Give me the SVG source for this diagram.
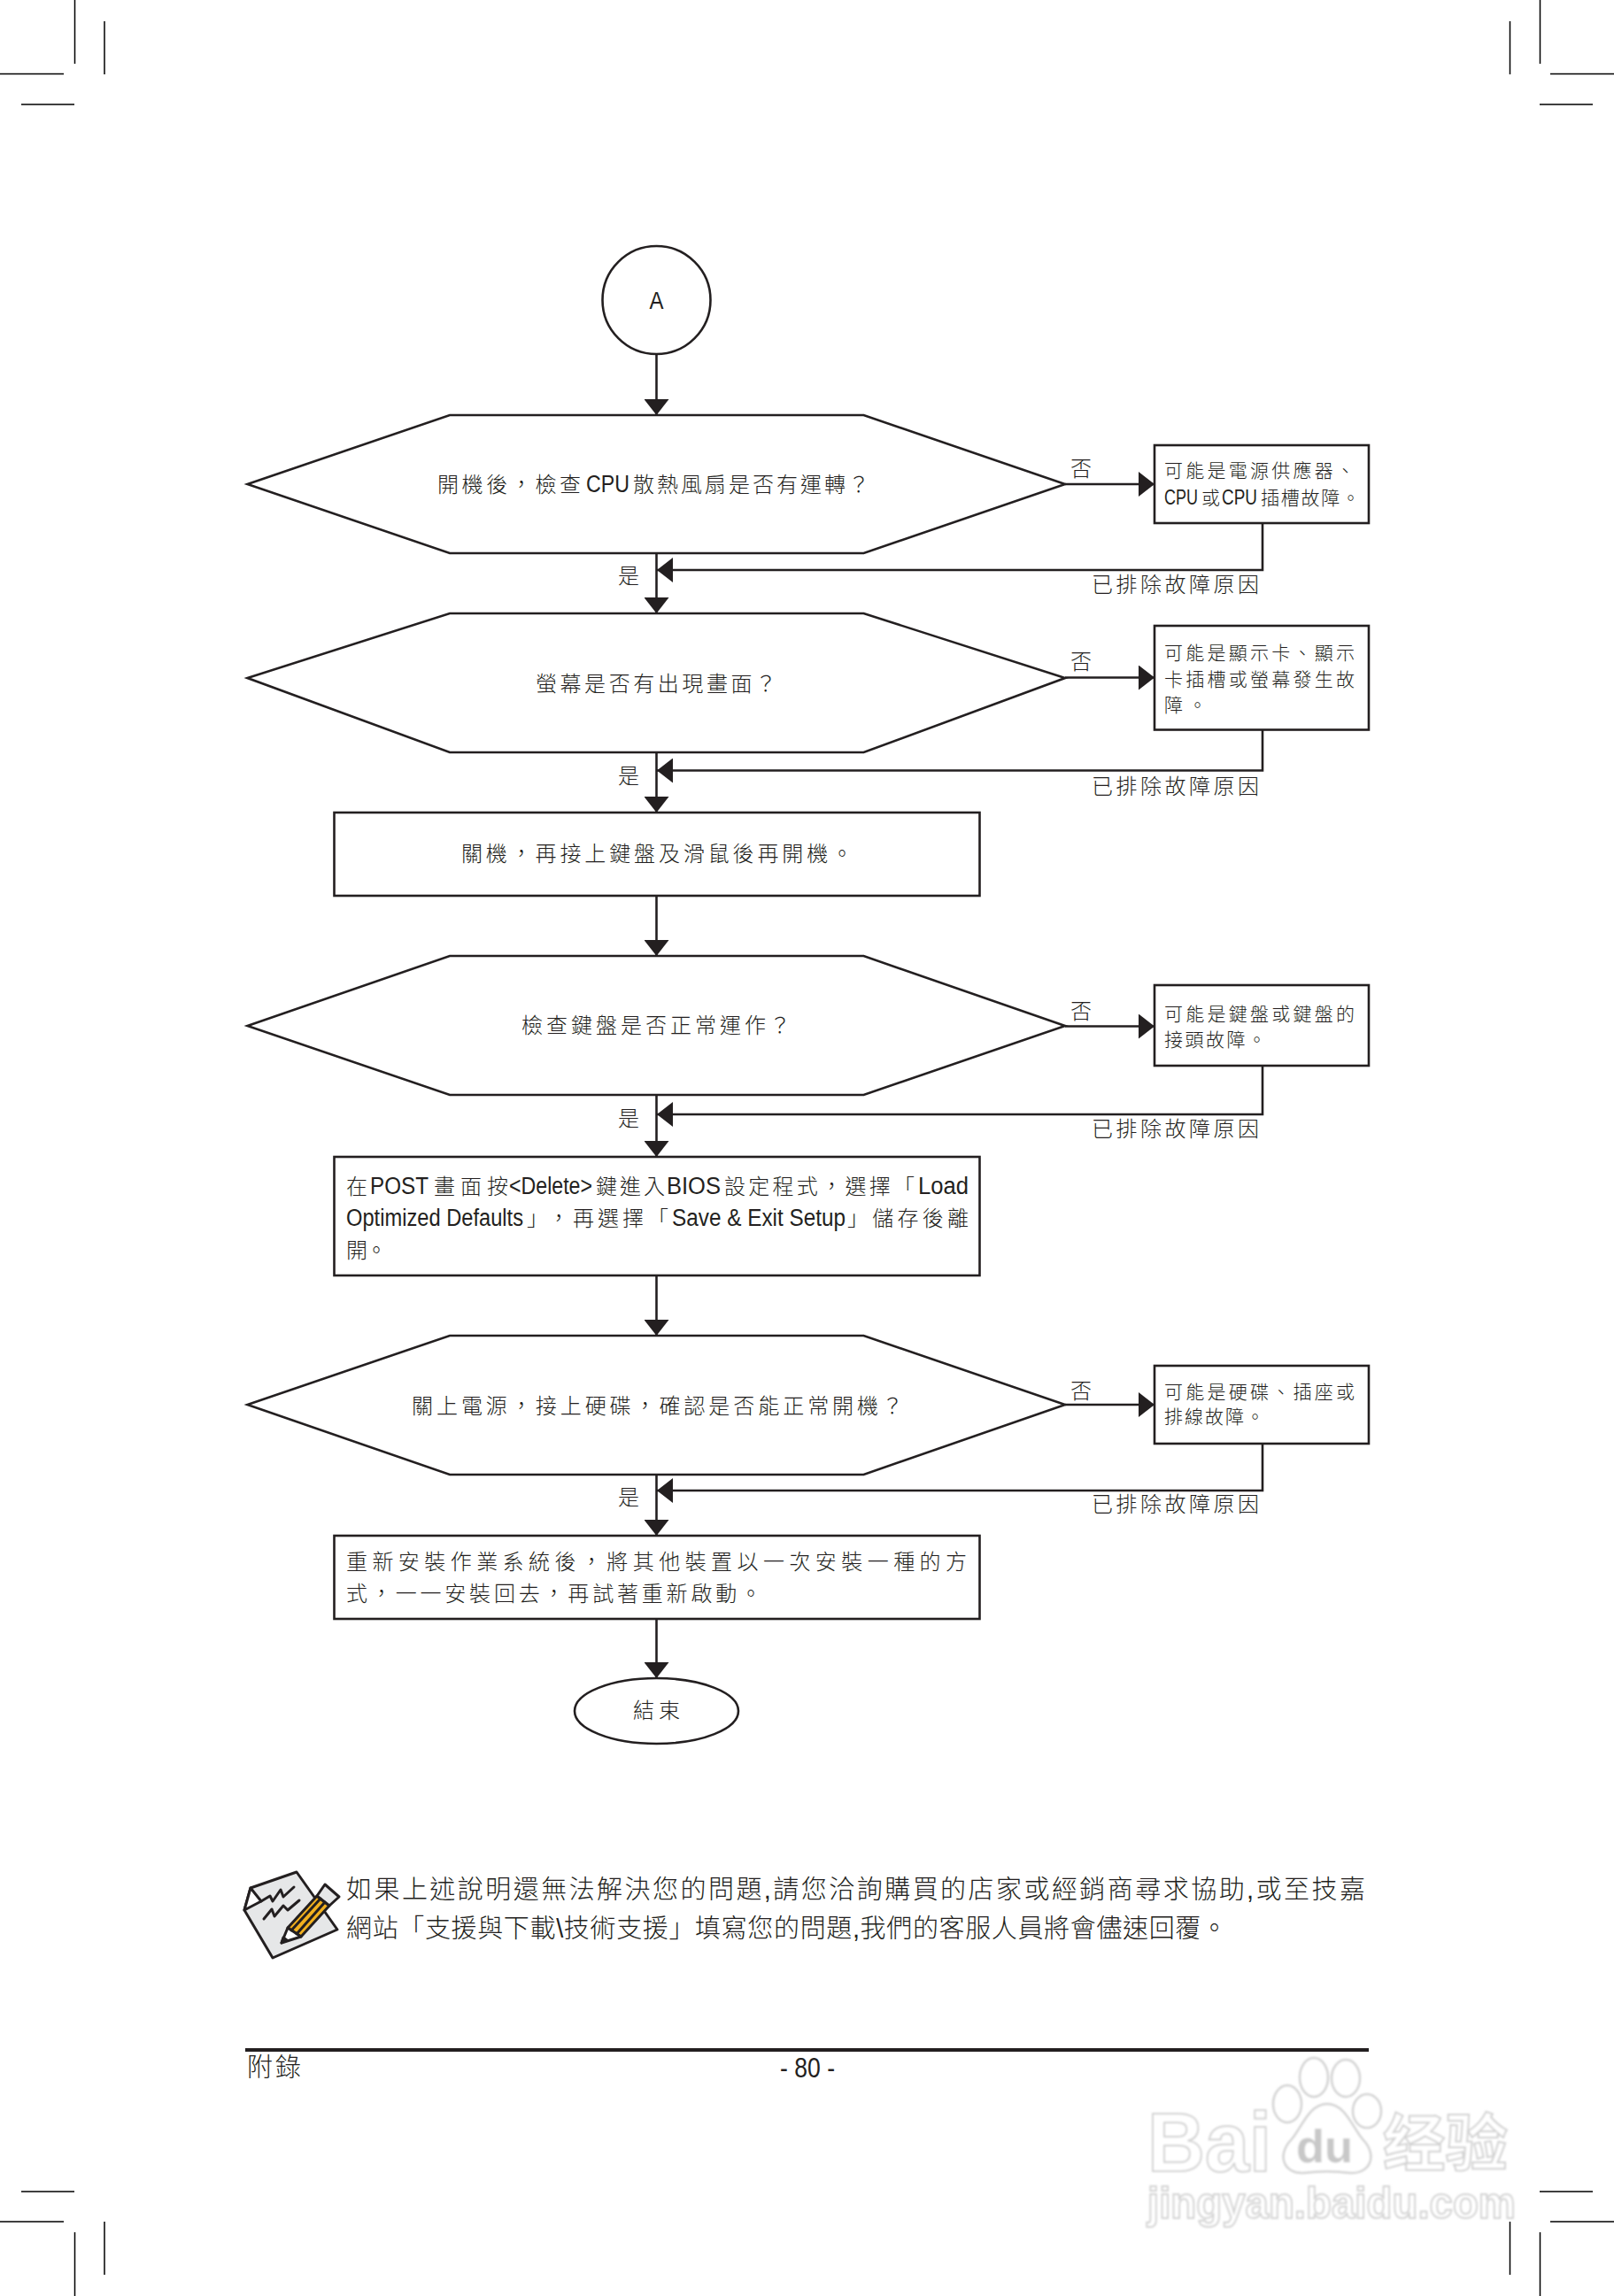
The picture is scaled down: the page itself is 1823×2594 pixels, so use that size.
<svg xmlns="http://www.w3.org/2000/svg" width="1823" height="2594" viewBox="0 0 1823 2594">
<style>
text{font-family:"Liberation Sans","Noto Sans CJK TC",sans-serif;fill:#231f20;font-size:24px;font-weight:300}
.s{font-size:21px}
.b{font-size:29px}
.l{font-size:27px;font-family:"Liberation Sans Narrow","Liberation Sans",sans-serif}
.ls{font-size:23px;font-family:"Liberation Sans Narrow","Liberation Sans",sans-serif}
.n{fill:#fff;stroke:#231f20;stroke-width:2.6}
.c{fill:none;stroke:#231f20;stroke-width:2.6}
.h{marker-end:url(#ah)}
.crop{stroke:#000;stroke-width:1.5;fill:none}
.wm{fill:#fff;stroke:#d2d2d2;stroke-width:2.5}
.wmt{font-family:"Liberation Sans","Noto Sans CJK SC",sans-serif;font-weight:700;fill:#fff;stroke:#d2d2d2;stroke-width:2}
.ic{stroke:#231f20;stroke-width:3;stroke-linejoin:round;stroke-linecap:round}
</style>
<defs>
<marker id="ah" markerUnits="userSpaceOnUse" markerWidth="18" markerHeight="28" refX="18" refY="14" orient="auto"><path d="M0,0L18,14L0,28z" fill="#231f20"/></marker>
<filter id="bl" x="-5%" y="-5%" width="110%" height="110%"><feGaussianBlur stdDeviation="0.9"/></filter>
</defs>
<rect width="1823" height="2594" fill="#fff"/>
<g id="cropmarks" class="crop">
<path d="M84.5 0V72M118 24V84M0 83.5H72M24 118H84"/>
<path d="M1739.5 0V72M1705.5 24V84M1751 83.5H1823M1739 118H1799"/>
<path d="M84.5 2522V2594M118 2510V2570M0 2510H72M24 2476H84"/>
<path d="M1739.5 2522V2594M1705.5 2510V2570M1751 2510H1823M1739 2476H1799"/>
</g>
<g id="connectors">
<path class="c h" d="M741.5 400V469"/>
<path class="c h" d="M741.5 625V693"/>
<path class="c h" d="M741.5 850V918"/>
<path class="c h" d="M741.5 1012V1080"/>
<path class="c h" d="M741.5 1237V1307"/>
<path class="c h" d="M741.5 1441V1509"/>
<path class="c h" d="M741.5 1666V1735"/>
<path class="c h" d="M741.5 1829V1896"/>
<path class="c h" d="M1203 547H1304"/>
<path class="c h" d="M1203 765.5H1304"/>
<path class="c h" d="M1203 1159.5H1304"/>
<path class="c h" d="M1203 1587H1304"/>
<path class="c h" d="M1426 591V644H742"/>
<path class="c h" d="M1426 824.5V870.5H742"/>
<path class="c h" d="M1426 1204V1259H742"/>
<path class="c h" d="M1426 1631V1684H742"/>
</g>
<g id="node-a"><circle class="n" cx="741.5" cy="339" r="61"/><text x="733.5" y="349" class="l" textLength="16" lengthAdjust="spacingAndGlyphs">A</text></g>
<g id="decision-1"><polygon class="n" points="279.5,547 508,469 975.5,469 1203,547 975.5,625 508,625"/><text y="556"><tspan x="494" textLength="162">開機後&#xFF0C;檢查</tspan><tspan x="662" class="l" textLength="49" lengthAdjust="spacingAndGlyphs">CPU</tspan><tspan x="715" textLength="267">散熱風扇是否有運轉&#xFF1F;</tspan></text></g>
<g id="decision-2"><polygon class="n" points="279.5,766 508,693 975.5,693 1203,766 975.5,850 508,850"/><text x="605" y="781" textLength="272">螢幕是否有出現畫面&#xFF1F;</text></g>
<g id="step-1"><rect class="n" x="377.5" y="918" width="729" height="94"/><text x="521" y="973" textLength="442">關機&#xFF0C;再接上鍵盤及滑鼠後再開機。</text></g>
<g id="decision-3"><polygon class="n" points="279.5,1159 508,1080 975.5,1080 1203,1159 975.5,1237 508,1237"/><text x="589" y="1167" textLength="304">檢查鍵盤是否正常運作&#xFF1F;</text></g>
<g id="step-2"><rect class="n" x="377.5" y="1307" width="729" height="134"/>
<text y="1349"><tspan x="391" textLength="24">在</tspan><tspan x="418" class="l" textLength="66" lengthAdjust="spacingAndGlyphs">POST</tspan><tspan x="490" textLength="84">畫面按</tspan><tspan x="575" class="l" textLength="94" lengthAdjust="spacingAndGlyphs">&lt;Delete&gt;</tspan><tspan x="673" textLength="78">鍵進入</tspan><tspan x="753" class="l" textLength="61" lengthAdjust="spacingAndGlyphs">BIOS</tspan><tspan x="818" textLength="215">設定程式&#xFF0C;選擇「</tspan><tspan x="1037" class="l" textLength="57" lengthAdjust="spacingAndGlyphs">Load</tspan></text>
<text y="1385"><tspan x="391" class="l" textLength="200" lengthAdjust="spacingAndGlyphs">Optimized Defaults</tspan><tspan x="595" textLength="48">」&#xFF0C;</tspan><tspan x="647" textLength="108">再選擇「</tspan><tspan x="759" class="l" textLength="196" lengthAdjust="spacingAndGlyphs">Save &amp; Exit Setup</tspan><tspan x="957" textLength="137">」儲存後離</tspan></text>
<text x="391" y="1421" textLength="46">開。</text></g>
<g id="decision-4"><polygon class="n" points="279.5,1587 508,1509 975.5,1509 1203,1587 975.5,1666 508,1666"/><text x="465" y="1597" textLength="555">關上電源&#xFF0C;接上硬碟&#xFF0C;確認是否能正常開機&#xFF1F;</text></g>
<g id="step-3"><rect class="n" x="377.5" y="1735" width="729" height="94"/>
<text x="391" y="1773" textLength="701">重新安裝作業系統後&#xFF0C;將其他裝置以一次安裝一種的方</text>
<text x="391" y="1809" textLength="469">式&#xFF0C;一一安裝回去&#xFF0C;再試著重新啟動。</text></g>
<g id="end"><ellipse class="n" cx="741.5" cy="1933" rx="92.5" ry="37"/><text x="715" y="1941" textLength="53">結束</text></g>
<g id="cause-1"><rect class="n" x="1304" y="503" width="242" height="88"/>
<text x="1315" y="539" class="s" textLength="215">可能是電源供應器、</text><text y="570" class="s"><tspan x="1315" class="ls" textLength="38" lengthAdjust="spacingAndGlyphs">CPU</tspan><tspan x="1357">或</tspan><tspan x="1380" class="ls" textLength="40" lengthAdjust="spacingAndGlyphs">CPU</tspan><tspan x="1424" textLength="112">插槽故障。</tspan></text></g>
<g id="cause-2"><rect class="n" x="1304" y="707" width="242" height="117.5"/>
<text x="1315" y="745" class="s" textLength="215">可能是顯示卡、顯示</text><text x="1315" y="775" class="s" textLength="215">卡插槽或螢幕發生故</text><text x="1315" y="804" class="s" textLength="48">障。</text></g>
<g id="cause-3"><rect class="n" x="1304" y="1113" width="242" height="91"/>
<text x="1315" y="1153" class="s" textLength="215">可能是鍵盤或鍵盤的</text><text x="1315" y="1182" class="s" textLength="115">接頭故障。</text></g>
<g id="cause-4"><rect class="n" x="1304" y="1543" width="242" height="88"/>
<text x="1315" y="1580" class="s" textLength="215">可能是硬碟、插座或</text><text x="1315" y="1608" class="s" textLength="113">排線故障。</text></g>
<g id="labels">
<text x="1209" y="538">否</text><text x="1209" y="756">否</text><text x="1209" y="1151">否</text><text x="1209" y="1580">否</text>
<text x="698" y="659">是</text><text x="698" y="885">是</text><text x="698" y="1272">是</text><text x="698" y="1700">是</text>
<text x="1233" y="669" textLength="189">已排除故障原因</text>
<text x="1233" y="897" textLength="189">已排除故障原因</text>
<text x="1233" y="1284" textLength="189">已排除故障原因</text>
<text x="1233" y="1708" textLength="189">已排除故障原因</text>
</g>
<g id="note-icon">
<path class="ic" fill="#e6e7e8" d="M335 2115L283 2133L276 2158L308 2212L381 2180Z"/>
<path class="ic" fill="#fff" d="M283 2133L276 2158L295 2148Z"/>
<path class="ic" fill="none" d="M295 2148L305 2142L308 2148L317 2135L320 2143L332 2132M298 2168L307 2157L310 2165L320 2153L325 2158L338 2147"/>
<path class="ic" fill="#f2b01e" d="M325 2178L358 2142L372 2153L340 2188Z"/>
<path class="ic" fill="#e6e7e8" d="M358 2142L367 2129L383 2143L372 2153Z"/>
<path class="ic" fill="#fff" d="M318 2195L325 2178L340 2188Z"/>
<path class="ic" fill="#231f20" d="M318 2195L320 2189L324 2192Z"/>
<path class="ic" fill="none" d="M329 2181L362 2145M335 2185L367 2149"/>
</g>
<g id="note"><text x="391" y="2145" class="b" textLength="1151">如果上述說明還無法解決您的問題,請您洽詢購買的店家或經銷商尋求協助,或至技嘉</text>
<text x="391" y="2189" class="b" textLength="995">網站「支援與下載\技術支援」填寫您的問題,我們的客服人員將會儘速回覆。</text></g>
<g id="footer"><rect x="277" y="2314" width="1269" height="4" fill="#231f20"/>
<text x="279" y="2346" class="b" textLength="61">附錄</text>
<text x="881" y="2347" style="font-size:31px;font-family:'Liberation Sans Narrow','Liberation Sans',sans-serif" textLength="62" lengthAdjust="spacingAndGlyphs">- 80 -</text></g>
<g id="watermark" filter="url(#bl)">
<text class="wmt" x="1296" y="2453" textLength="140" lengthAdjust="spacingAndGlyphs" style="font-size:94px">Bai</text>
<ellipse class="wm" cx="1484" cy="2347" rx="16" ry="22"/><ellipse class="wm" cx="1520" cy="2348" rx="16" ry="21"/><ellipse class="wm" cx="1454" cy="2377" rx="16" ry="21"/><ellipse class="wm" cx="1544" cy="2385" rx="16" ry="19"/>
<path class="wm" d="M1499 2377C1520 2377 1528 2405 1540 2418C1556 2435 1548 2456 1525 2455C1510 2453 1488 2453 1472 2455C1450 2456 1442 2435 1458 2418C1470 2405 1478 2377 1499 2377Z"/>
<text x="1464" y="2443" textLength="64" lengthAdjust="spacingAndGlyphs" style="font-family:'Liberation Sans',sans-serif;font-size:52px;font-weight:700;fill:#c8c8c8">du</text>
<text class="wmt" x="1562" y="2447" textLength="141" lengthAdjust="spacingAndGlyphs" style="font-size:70px">经验</text>
<text class="wmt" x="1296" y="2506" textLength="416" lengthAdjust="spacingAndGlyphs" style="font-size:50px">jingyan.baidu.com</text>
</g>
</svg>
